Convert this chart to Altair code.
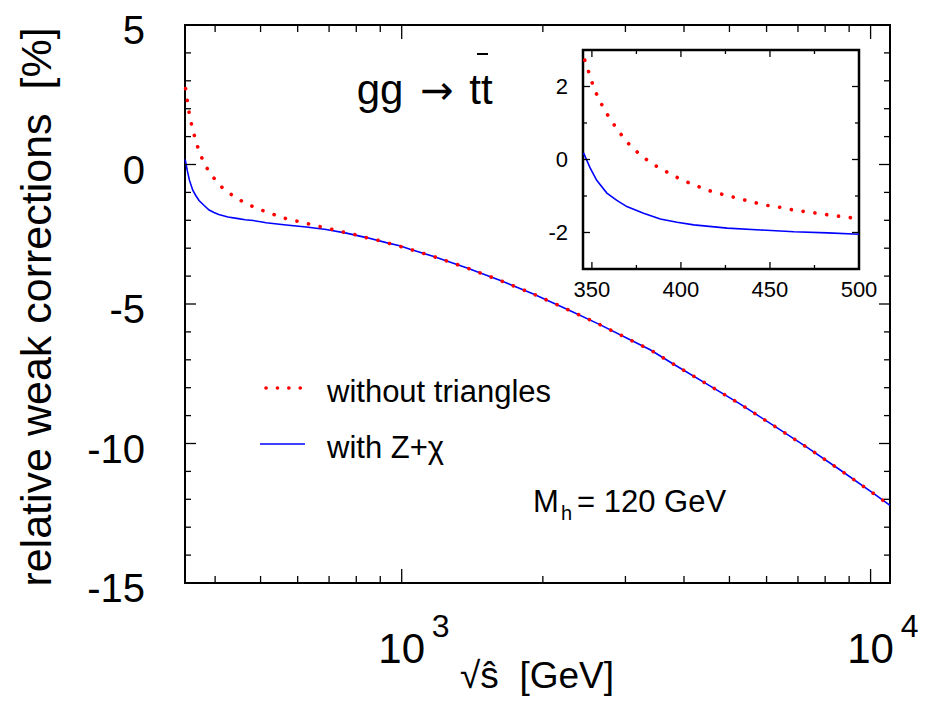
import altair as alt
import pandas as pd

# ---------------- data ----------------
# curve "without triangles" (red dotted)
red_s = [346, 348.6, 350.8, 353.6, 357, 360.6, 364.7, 368.9, 373.7, 379, 384.6, 390.5,
         396.5, 402.5, 408.7, 414.9, 421.3, 427.7, 434.2, 440.6, 447.2, 453.8, 460.4,
         466.9, 473.3, 480.1, 486.5, 493.1, 497.7, 531, 561, 594, 629, 663, 704, 745,
         789, 834, 882, 932, 985, 1042, 1166, 1374, 1619, 1909, 2240, 2640, 3100, 3388,
         3802, 4478, 5275, 6215, 7322, 8630, 10160, 11000]
red_corr = [2.72, 2.34, 2.0, 1.68, 1.37, 1.08, 0.80, 0.52, 0.28, 0.055, -0.14, -0.30,
            -0.46, -0.60, -0.72, -0.84, -0.93, -1.01, -1.09, -1.17, -1.25, -1.29, -1.36,
            -1.41, -1.45, -1.50, -1.54, -1.58, -1.61, -1.78, -1.92, -2.02, -2.12, -2.21,
            -2.31, -2.41, -2.50, -2.61, -2.70, -2.81, -2.92, -3.04, -3.29, -3.70, -4.15,
            -4.64, -5.17, -5.73, -6.32, -6.64, -7.16, -7.87, -8.59, -9.36, -10.14, -10.96,
            -11.80, -12.22]

# curve "with Z+chi" (blue solid)
blue_s = [345.3, 349, 352.7, 358.4, 364, 369.6, 379, 388.4, 397.8, 407.2, 426, 444.8,
          463.5, 482.4, 500, 514, 567, 626, 690, 762, 841, 927, 990, 1042, 1166, 1374,
          1619, 1909, 2240, 2640, 3100, 3388, 3802, 4478, 5275, 6215, 7322, 8630, 10160,
          11000]
blue_corr = [0.18, -0.23, -0.57, -0.92, -1.12, -1.29, -1.47, -1.63, -1.72, -1.79, -1.88,
             -1.93, -1.98, -2.01, -2.05, -2.09, -2.17, -2.24, -2.33, -2.46, -2.62, -2.80,
             -2.91, -3.04, -3.29, -3.70, -4.15, -4.64, -5.17, -5.73, -6.32, -6.64, -7.16,
             -7.87, -8.59, -9.36, -10.14, -10.96, -11.80, -12.22]

# ticks / labels
main_x_major = [1000, 10000]
main_x_minor = [400, 500, 600, 700, 800, 900, 2000, 3000, 4000, 5000, 6000, 7000, 8000, 9000]
main_x_base = ["10", "10"]
main_x_exponents = ["3", "4"]
main_y_labels = [-15, -10, -5, 0, 5]
main_y_major = [-10, -5, 0]
main_y_minor = [-14, -13, -12, -11, -9, -8, -7, -6, -4, -3, -2, -1, 1, 2, 3, 4]

inset_x_major = [350, 400, 450, 500]
inset_x_minor = [375, 425, 475]
inset_y_major = [-2, 0, 2]
inset_y_minor = [-1, 1]

legend_labels = ["without triangles", "with Z+χ"]
x_title = "√ŝ\u00a0\u00a0[GeV]"
y_title = "relative weak corrections\u00a0\u00a0[%]"

# ---------------- layout ----------------
FONT = "Liberation Sans"
W, H = 705, 558
RED, BLUE = "#ff0000", "#0000ff"

# inset box in plot coordinates
IX0, IX1, IY0, IY1 = 398, 674, 25, 244

red = pd.DataFrame({"s": red_s, "corr": red_corr})
blue = pd.DataFrame({"s": blue_s, "corr": blue_corr})
one = pd.DataFrame({"k": [0]})

xs = alt.Scale(type="log", domain=[345, 11000], nice=False)
ys = alt.Scale(domain=[-15, 5], nice=False, zero=False)


def txt(text, x, y, size, align="left", baseline="alphabetic", font=FONT, angle=0):
    kw = dict(text=text, fontSize=size, align=align, baseline=baseline, font=font,
              color="black")
    if angle:
        kw["angle"] = angle
    return alt.Chart(one).mark_text(**kw).encode(x=alt.value(x), y=alt.value(y))


frame = alt.Chart(one).mark_rect(fillOpacity=0, stroke="black", strokeWidth=2).encode(
    x=alt.value(0), x2=alt.value(W), y=alt.value(0), y2=alt.value(H))

blue_line = alt.Chart(blue).mark_line(color=BLUE, strokeWidth=1.6).encode(
    x=alt.X("s:Q", scale=xs, axis=None),
    y=alt.Y("corr:Q", scale=ys, axis=None))

red_line = alt.Chart(red).mark_line(color=RED, strokeWidth=3.6, strokeCap="round",
                                    strokeDash=[0.1, 11.8]).encode(
    x=alt.X("s:Q", scale=xs, axis=None),
    y=alt.Y("corr:Q", scale=ys, axis=None))


def xticks(vals, scale, ybase, length, down):
    df = pd.DataFrame({"s": vals})
    y2 = ybase + length if down else ybase - length
    return alt.Chart(df).mark_rule(color="black", strokeWidth=1.3).encode(
        x=alt.X("s:Q", scale=scale, axis=None), y=alt.value(ybase), y2=alt.value(y2))


def yticks(vals, scale, xbase, length, right):
    df = pd.DataFrame({"corr": vals})
    x2 = xbase + length if right else xbase - length
    return alt.Chart(df).mark_rule(color="black", strokeWidth=1.3).encode(
        y=alt.Y("corr:Q", scale=scale, axis=None), x=alt.value(xbase), x2=alt.value(x2))


def xlabels(vals, texts, scale, y, size, dx=0, align="center"):
    df = pd.DataFrame({"s": vals, "t": texts})
    return alt.Chart(df).mark_text(fontSize=size, dx=dx, align=align,
                                   baseline="alphabetic", color="black").encode(
        x=alt.X("s:Q", scale=scale, axis=None), y=alt.value(y), text="t:N")


def ylabels(vals, scale, x, size, dy=0):
    df = pd.DataFrame({"corr": vals, "t": [str(v) for v in vals]})
    return alt.Chart(df).mark_text(fontSize=size, align="right", baseline="middle",
                                   dy=dy, color="black").encode(
        y=alt.Y("corr:Q", scale=scale, axis=None), x=alt.value(x), text="t:N")


main_ticks = [
    xticks(main_x_major, xs, H, 14, False), xticks(main_x_minor, xs, H, 7, False),
    xticks(main_x_major, xs, 0, 14, True), xticks(main_x_minor, xs, 0, 7, True),
    yticks(main_y_major, ys, 0, 11, True), yticks(main_y_minor, ys, 0, 6, True),
    yticks(main_y_major, ys, W, 11, False), yticks(main_y_minor, ys, W, 6, False),
]

main_labels = [
    xlabels(main_x_major, main_x_base, xs, 638, 42),
    xlabels(main_x_major, main_x_exponents, xs, 612, 32, dx=39),
    ylabels(main_y_labels, ys, -40, 40, dy=7),
    txt(x_title, 352, 663, 37, align="center"),
    txt(y_title, -134, 282, 43, align="center", angle=270),
]

# legend (drawn inside the plot like the original)
leg_red = alt.Chart(one).mark_rule(color=RED, strokeWidth=3.6, strokeCap="round",
                                   strokeDash=[0.1, 11.3]).encode(
    x=alt.value(81), x2=alt.value(116), y=alt.value(363))
leg_blue = alt.Chart(one).mark_rule(color=BLUE, strokeWidth=1.6).encode(
    x=alt.value(75), x2=alt.value(120), y=alt.value(419))
legend = [leg_red, leg_blue,
          txt(legend_labels[0], 142, 377, 31),
          txt(legend_labels[1], 142, 433, 31)]

annot = [
    txt("M", 348, 487, 31),
    txt("h", 376, 495, 20),
    txt("= 120 GeV", 392, 487, 31),
    txt("gg", 195, 79, 42, align="center"),
    txt("→", 252, 79, 40, align="center", font="DejaVu Sans"),
    txt("tt", 296, 79, 42, align="center"),
    alt.Chart(one).mark_rule(color="black", strokeWidth=2).encode(
        x=alt.value(292), x2=alt.value(303), y=alt.value(29)),
]

main = alt.layer(frame, blue_line, red_line, *main_ticks, *main_labels, *legend, *annot)

# ---------------- inset ----------------
ixs = alt.Scale(domain=[345, 500], range=[IX0, IX1], nice=False, zero=False)
iys = alt.Scale(domain=[-3, 3], range=[IY1, IY0], nice=False, zero=False)

inset_bg = alt.Chart(one).mark_rect(fill="white", stroke="black", strokeWidth=2.5).encode(
    x=alt.value(IX0), x2=alt.value(IX1), y=alt.value(IY0), y2=alt.value(IY1))

inset_blue = alt.Chart(blue).transform_filter(alt.datum.s <= 500).mark_line(
    color=BLUE, strokeWidth=1.6).encode(
    x=alt.X("s:Q", scale=ixs, axis=None),
    y=alt.Y("corr:Q", scale=iys, axis=None))

inset_red = alt.Chart(red).transform_filter(alt.datum.s <= 500).mark_line(
    color=RED, strokeWidth=3.6, strokeCap="round", strokeDash=[0.1, 11.8]).encode(
    x=alt.X("s:Q", scale=ixs, axis=None),
    y=alt.Y("corr:Q", scale=iys, axis=None))

inset_ticks = [
    xticks(inset_x_major, ixs, IY1, 7, False), xticks(inset_x_minor, ixs, IY1, 4, False),
    xticks(inset_x_major, ixs, IY0, 7, True), xticks(inset_x_minor, ixs, IY0, 4, True),
    yticks(inset_y_major, iys, IX0, 7, True), yticks(inset_y_minor, iys, IX0, 4, True),
    yticks(inset_y_major, iys, IX1, 7, False), yticks(inset_y_minor, iys, IX1, 4, False),
]

inset_labels = [
    xlabels(inset_x_major, [str(v) for v in inset_x_major], ixs, 272, 22),
    ylabels(inset_y_major, iys, IX0 - 15, 22),
]

inset = alt.layer(inset_bg, inset_blue, inset_red, *inset_ticks, *inset_labels)

chart = alt.layer(main, inset).resolve_scale(x="independent", y="independent").properties(
    width=W, height=H,
    autosize=alt.AutoSizeParams(type="none"),
    padding={"left": 177, "top": 17, "right": 30, "bottom": 119},
).configure(font=FONT).configure_view(stroke=None)

chart.save("out.html", embed_options={"renderer": "svg", "actions": False})
